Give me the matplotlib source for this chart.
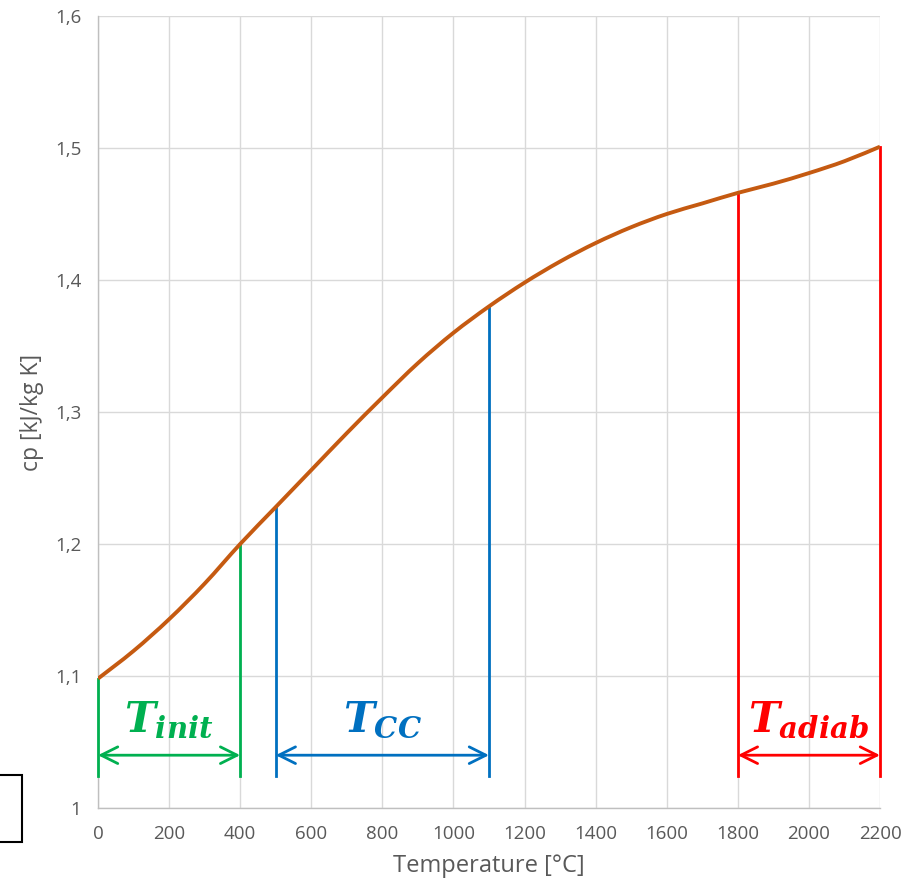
import matplotlib.pyplot as plt
from matplotlib.patches import Rectangle, PathPatch
from matplotlib.path import Path

plt.rcParams['font.family'] = ['Open Sans', 'DejaVu Sans']
plt.rcParams['mathtext.fontset'] = 'custom'
plt.rcParams['mathtext.it'] = 'DejaVu Serif:italic:bold'
plt.rcParams['mathtext.rm'] = 'DejaVu Serif:bold'

# specific heat of the gas vs temperature
temp = [0, 100, 200, 300, 400, 500, 600, 700, 800, 900, 1000, 1100,
        1200, 1300, 1400, 1500, 1600, 1700, 1800, 1900, 2000, 2100, 2200]
cp = [1.098, 1.119, 1.143, 1.170, 1.200, 1.228, 1.256, 1.284, 1.311, 1.337,
      1.360, 1.380, 1.398, 1.414, 1.428, 1.440, 1.450, 1.458, 1.466, 1.473,
      1.481, 1.490, 1.501]

# temperature ranges: (name, start, end, cp at start, cp at end, colour)
ranges = [
    ('init', 0, 400, 1.098, 1.200, '#00B050'),
    ('CC', 500, 1100, 1.228, 1.380, '#0070C0'),
    ('adiab', 1800, 2200, 1.466, 1.501, '#FF0000'),
]

x_ticks = [0, 200, 400, 600, 800, 1000, 1200, 1400, 1600, 1800, 2000, 2200]
y_ticks = [1.0, 1.1, 1.2, 1.3, 1.4, 1.5, 1.6]
y_tick_labels = ['1', '1,1', '1,2', '1,3', '1,4', '1,5', '1,6']


def smooth_path(xs, ys):
    # Catmull-Rom style bezier through the points (like a spreadsheet "smoothed line")
    verts = [(xs[0], ys[0])]
    codes = [Path.MOVETO]
    n = len(xs)
    for i in range(n - 1):
        x0, y0 = xs[max(i - 1, 0)], ys[max(i - 1, 0)]
        x1, y1 = xs[i], ys[i]
        x2, y2 = xs[i + 1], ys[i + 1]
        x3, y3 = xs[min(i + 2, n - 1)], ys[min(i + 2, n - 1)]
        c1 = (x1 + (x2 - x0) / 6, y1 + (y2 - y0) / 6)
        c2 = (x2 - (x3 - x1) / 6, y2 - (y3 - y1) / 6)
        verts += [c1, c2, (x2, y2)]
        codes += [Path.CURVE4] * 3
    return Path(verts, codes)


fig = plt.figure(figsize=(9.23, 8.85), dpi=100)
ax = fig.add_axes([98 / 923, 77 / 885, 782 / 923, 792 / 885])

ax.add_patch(PathPatch(smooth_path(temp, cp), fill=False, edgecolor='#C55A11',
                       lw=2.8, zorder=4, capstyle='butt'))

line_bottom = 1.024
arrow_y = 1.040
label_y = 1.066
for name, t0, t1, c0, c1, col in ranges:
    ax.plot([t0, t0], [line_bottom, c0], color=col, lw=2, zorder=3, clip_on=False)
    ax.plot([t1, t1], [line_bottom, c1], color=col, lw=2, zorder=3, clip_on=False)
    ax.annotate('', xy=(t1, arrow_y), xytext=(t0, arrow_y),
                arrowprops=dict(arrowstyle='<->,head_length=0.6,head_width=0.3',
                                mutation_scale=20, color=col, lw=2,
                                shrinkA=0, shrinkB=0), zorder=4)
    ax.text((t0 + t1) / 2, label_y, r'$T_{%s}$' % name, color=col,
            fontsize=30, ha='center', va='center')

ax.set_xlim(0, 2200)
ax.set_ylim(1.0, 1.6)
ax.set_xticks(x_ticks)
ax.set_yticks(y_ticks)
ax.set_yticklabels(y_tick_labels)
ax.grid(True, color='#D9D9D9', lw=1)
ax.set_axisbelow(True)
ax.tick_params(length=0, labelsize=13.5, colors='#595959', pad=12)
for side in ['top', 'right']:
    ax.spines[side].set_visible(False)
for side in ['left', 'bottom']:
    ax.spines[side].set_color('#BFBFBF')
    ax.spines[side].set_linewidth(1)

ax.set_xlabel('Temperature [°C]', fontsize=17, color='#595959', labelpad=8)
ax.set_ylabel('cp [kJ/kg K]', fontsize=16.5, color='#595959', labelpad=8)

fig.patches.append(Rectangle((-5 / 923, 43 / 885), 27 / 923, 67 / 885,
                             transform=fig.transFigure, fill=False,
                             edgecolor='black', lw=1.5))

fig.savefig('out.png', dpi=100)
